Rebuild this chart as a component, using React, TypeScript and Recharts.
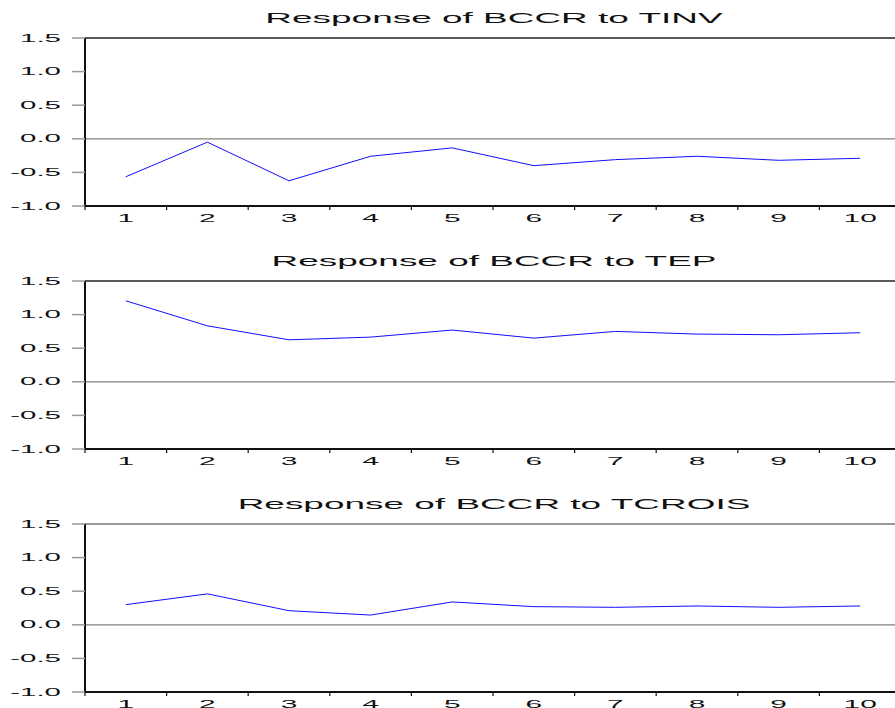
// Three stacked impulse-response panels (EViews style), drawn with Recharts.
// Text in the source is horizontally stretched, so labels are scaled on x.

import { LineChart, Line, XAxis, YAxis, ReferenceLine } from 'recharts'

const periods = [1, 2, 3, 4, 5, 6, 7, 8, 9, 10]
const yTicks = [-1, -0.5, 0, 0.5, 1, 1.5]
const yTickLabels = ['-1.0', '-0.5', '0.0', '0.5', '1.0', '1.5']

const tinv = [-0.565, -0.05, -0.625, -0.26, -0.135, -0.4, -0.31, -0.26, -0.32, -0.29]
const tep = [1.205, 0.833, 0.625, 0.665, 0.77, 0.65, 0.75, 0.71, 0.7, 0.73]
const tcrois = [0.3, 0.46, 0.21, 0.145, 0.34, 0.27, 0.26, 0.28, 0.26, 0.28]

const panelTitles = [
  'Response of BCCR to TINV',
  'Response of BCCR to TEP',
  'Response of BCCR to TCROIS',
]
const panelSeries = [tinv, tep, tcrois]

const FONT = '"Liberation Sans", Arial, sans-serif'
const PLOT_H = 168
const PLOT_W = 816
const LEFT = 85
const TOP_PAD = 30
const AXIS_H = 30

// tick positions: band edges get a tick mark, band centres get the label
const xTicks = periods.flatMap((p) => [p - 0.5, p]).concat(periods.length + 0.5)

function YTick({ x, y, payload }: any) {
  const i = yTicks.indexOf(payload.value)
  return (
    <g transform={`translate(${x},${y}) scale(2.95,1)`}>
      <text x={0} y={3.6} textAnchor="end" fontSize={10} fontFamily={FONT} fill="#111">
        {yTickLabels[i]}
      </text>
    </g>
  )
}

function XTick({ x, y, payload }: any) {
  const v = payload.value
  if (!Number.isInteger(v)) {
    return <line x1={x} x2={x} y1={y} y2={y + 4} stroke="#111" strokeWidth={1.2} />
  }
  return (
    <g transform={`translate(${x},${y + 15.5}) scale(2.85,1)`}>
      <text x={0} y={0} textAnchor="middle" fontSize={10.5} fontFamily={FONT} fill="#111">
        {String(v)}
      </text>
    </g>
  )
}

function Panel({ title, values, top, topLine }: { title: string; values: number[]; top: number; topLine: string }) {
  const data = periods.map((p, i) => ({ period: p, value: values[i] }))
  const width = LEFT + PLOT_W
  const height = TOP_PAD + PLOT_H + AXIS_H
  return (
    <div style={{ position: 'absolute', left: 0, top: top - TOP_PAD, width, height }}>
      <svg width={width} height={TOP_PAD} style={{ position: 'absolute', left: 0, top: 0 }}>
        <g transform={`translate(${LEFT + PLOT_W / 2 + 1},15) scale(2.64,1)`}>
          <text x={0} y={0} textAnchor="middle" fontSize={14} fontFamily={FONT} fill="#111">
            {title}
          </text>
        </g>
      </svg>
      <LineChart
        width={width}
        height={height}
        data={data}
        margin={{ top: TOP_PAD, right: 0, bottom: 0, left: 0 }}
        style={{ position: 'absolute', left: 0, top: 0 }}
      >
        <XAxis
          dataKey="period"
          type="number"
          domain={[0.5, periods.length + 0.5]}
          ticks={xTicks}
          interval={0}
          height={AXIS_H}
          tickSize={0}
          tickMargin={0}
          tickLine={false}
          tick={(p: any) => <XTick {...p} />}
          axisLine={{ stroke: '#111', strokeWidth: 2 }}
        />
        <YAxis
          type="number"
          domain={[-1, 1.5]}
          ticks={yTicks}
          interval={0}
          width={LEFT}
          tickSize={13}
          tickMargin={11}
          tickLine={{ stroke: '#999', strokeWidth: 1.5 }}
          tick={(p: any) => <YTick {...p} />}
          axisLine={{ stroke: '#111', strokeWidth: 2 }}
        />
        <ReferenceLine y={1.5} stroke={topLine} strokeWidth={1.5} />
        <ReferenceLine y={0} stroke="#808080" strokeWidth={1.2} />
        <Line
          type="linear"
          dataKey="value"
          stroke="#1010ff"
          strokeWidth={1}
          dot={false}
          isAnimationActive={false}
        />
      </LineChart>
    </div>
  )
}

export default function App() {
  const tops = [38, 281, 524]
  const topLines = ['#222', '#222', '#777']
  return (
    <div
      style={{
        position: 'fixed',
        left: 0,
        top: 0,
        width: 895,
        height: 708,
        overflow: 'hidden',
        background: '#fff',
        fontFamily: FONT,
      }}
    >
      <style>{'html,body{margin:0;overflow:hidden}'}</style>
      {panelTitles.map((t, i) => (
        <Panel key={t} title={t} values={panelSeries[i]} top={tops[i]} topLine={topLines[i]} />
      ))}
    </div>
  )
}
